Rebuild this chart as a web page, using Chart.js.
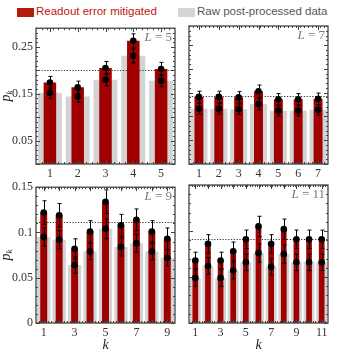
<!DOCTYPE html>
<html>
<head>
<meta charset="utf-8">
<script src="https://cdn.jsdelivr.net/npm/chart.js@4.4.1/dist/chart.umd.min.js"></script>
<style>
  html, body { margin: 0; padding: 0; background: #fff; }
  body { width: 337px; height: 356px; position: relative; overflow: hidden; }
  canvas { position: absolute; }
  .swatch { position: absolute; top: 8px; width: 17px; height: 9px; }
  .legend-text { position: absolute; top: 5px; line-height: 15px; font: 11.5px 'Liberation Sans', Arial, sans-serif; white-space: nowrap; }
</style>
</head>
<body>
<div class="swatch" style="left:17px; background:#b51a0e;"></div>
<div class="legend-text" style="left:36px; color:#c0160c;">Readout error mitigated</div>
<div class="swatch" style="left:178px; background:#d6d6d6;"></div>
<div class="legend-text" style="left:197px; color:#555;">Raw post-processed data</div>
<canvas id="c5"></canvas>
<canvas id="c7"></canvas>
<canvas id="c9"></canvas>
<canvas id="c11"></canvas>
<script>
// ---- data ----
const k5 = [1, 2, 3, 4, 5];
const mit5 = [0.174, 0.164, 0.205, 0.263, 0.203];
const raw5 = [0.152, 0.144, 0.180, 0.231, 0.178];
const mitErr5 = [0.013, 0.013, 0.014, 0.015, 0.014];
const rawErr5 = [0.012, 0.012, 0.013, 0.015, 0.013];

const k7 = [1, 2, 3, 4, 5, 6, 7];
const mit7 = [0.141, 0.141, 0.140, 0.153, 0.136, 0.136, 0.137];
const raw7 = [0.116, 0.116, 0.115, 0.126, 0.112, 0.112, 0.114];
const mitErr7 = [0.012, 0.012, 0.012, 0.013, 0.012, 0.012, 0.012];
const rawErr7 = [0.011, 0.011, 0.011, 0.012, 0.011, 0.011, 0.011];

const k9 = [1, 2, 3, 4, 5, 6, 7, 8, 9];
const mit9 = [0.122, 0.119, 0.082, 0.101, 0.134, 0.108, 0.114, 0.101, 0.093];
const raw9 = [0.095, 0.092, 0.064, 0.079, 0.104, 0.084, 0.088, 0.079, 0.072];
const mitErr9 = [0.013, 0.013, 0.011, 0.012, 0.013, 0.012, 0.012, 0.012, 0.012];
const rawErr9 = [0.010, 0.010, 0.009, 0.009, 0.011, 0.010, 0.010, 0.009, 0.009];

const k11 = [1, 2, 3, 4, 5, 6, 7, 8, 9, 10, 11];
const mit11 = [0.068, 0.086, 0.068, 0.078, 0.091, 0.105, 0.086, 0.102, 0.091, 0.091, 0.091];
const raw11 = [0.049, 0.062, 0.049, 0.057, 0.066, 0.076, 0.061, 0.075, 0.066, 0.066, 0.066];
const mitErr11 = [0.009, 0.010, 0.009, 0.010, 0.010, 0.011, 0.010, 0.011, 0.010, 0.010, 0.010];
const rawErr11 = [0.009, 0.009, 0.009, 0.009, 0.009, 0.010, 0.009, 0.010, 0.009, 0.009, 0.009];

// tick labels
const yTicksTop = [0.05, 0.15, 0.25];
const yTicksBottom = [0, 0.05, 0.1, 0.15];
const xShownBottom = [1, 3, 5, 7, 9, 11];

const RED = '#a00000';
const GRAY = '#d3d3d3';
const TICK_FONT = { family: "'Liberation Serif', 'Times New Roman', serif", size: 12 };

// dotted 1/L line, drawn right after the gray bars so red sits on top
const refLinePlugin = {
  id: 'refLine',
  afterDatasetDraw(chart, args, opts) {
    if (args.index !== 0) return;
    const { ctx, chartArea: a, scales: { y } } = chart;
    const py = Math.round(y.getPixelForValue(1 / opts.L)) + 0.5;
    ctx.save();
    ctx.strokeStyle = '#333';
    ctx.lineWidth = 1;
    ctx.setLineDash([1.2, 1.6]);
    ctx.beginPath();
    ctx.moveTo(a.left, py);
    ctx.lineTo(a.right, py);
    ctx.stroke();
    ctx.restore();
  }
};

const errorBarPlugin = {
  id: 'errorBars',
  afterDatasetsDraw(chart) {
    const { ctx, scales: { y } } = chart;
    ctx.save();
    ctx.strokeStyle = '#000';
    ctx.lineWidth = 1;
    chart.data.datasets.forEach((ds, i) => {
      if (!ds.errors) return;
      const meta = chart.getDatasetMeta(i);
      meta.data.forEach((pt, j) => {
        const v = ds.data[j], e = ds.errors[j];
        const x = Math.round(pt.x) + 0.5;
        const y1 = y.getPixelForValue(v - e);
        const y2 = y.getPixelForValue(v + e);
        ctx.beginPath();
        ctx.moveTo(x, y1); ctx.lineTo(x, y2);
        ctx.moveTo(x - 2, y1); ctx.lineTo(x + 2, y1);
        ctx.moveTo(x - 2, y2); ctx.lineTo(x + 2, y2);
        ctx.stroke();
      });
    });
    ctx.restore();
  }
};

// Mathematica-like frame with inward ticks, panel label and y title
const framePlugin = {
  id: 'frame',
  afterDraw(chart, args, opts) {
    const { ctx, chartArea: a, scales: { x, y } } = chart;
    ctx.save();
    ctx.strokeStyle = '#444';
    ctx.lineWidth = 1;
    ctx.beginPath();
    const nMinor = Math.round(y.max / 0.01);
    for (let n = 0; n <= nMinor; n++) {
      const py = Math.round(y.getPixelForValue(n * 0.01)) + 0.5;
      const len = n % 5 === 0 ? 4 : 2;
      ctx.moveTo(a.left, py); ctx.lineTo(a.left + len, py);
      ctx.moveTo(a.right, py); ctx.lineTo(a.right - len, py);
    }
    const nCat = chart.data.labels.length;
    for (let i = 0; i < nCat; i++) {
      const px = Math.round(x.getPixelForValue(i)) + 0.5;
      ctx.moveTo(px, a.bottom); ctx.lineTo(px, a.bottom - 4);
      ctx.moveTo(px, a.top); ctx.lineTo(px, a.top + 4);
    }
    const step = (a.right - a.left) / (nCat * 5);
    for (let s = a.left + step; s < a.right - 1; s += step) {
      const px = Math.round(s) + 0.5;
      ctx.moveTo(px, a.top); ctx.lineTo(px, a.top + 2);
      ctx.moveTo(px, a.bottom); ctx.lineTo(px, a.bottom - 2);
    }
    ctx.stroke();
    ctx.lineWidth = 1.3;
    ctx.strokeRect(a.left, a.top, a.right - a.left, a.bottom - a.top);

    // panel label "L = n"
    ctx.fillStyle = '#777';
    ctx.textBaseline = 'alphabetic';
    ctx.textAlign = 'left';
    ctx.font = "13px 'Liberation Serif', serif";
    const rest = ' = ' + opts.L;
    const wRest = ctx.measureText(rest).width;
    ctx.font = "italic 13px 'Liberation Serif', serif";
    const wL = ctx.measureText('L').width;
    const xr = a.right - 3;
    const yb = a.top + 13;
    ctx.fillText('L', xr - wRest - wL, yb);
    ctx.font = "13px 'Liberation Serif', serif";
    ctx.fillText(rest, xr - wRest, yb);

    // y title p_k
    if (opts.yTitle) {
      ctx.fillStyle = '#222';
      ctx.translate(10, (a.top + a.bottom) / 2);
      ctx.rotate(-Math.PI / 2);
      ctx.font = "italic 14px 'Liberation Serif', serif";
      const wp = ctx.measureText('p').width;
      ctx.font = "italic 9px 'Liberation Serif', serif";
      const wk = ctx.measureText('k').width;
      const x0 = -(wp + wk) / 2;
      ctx.font = "italic 14px 'Liberation Serif', serif";
      ctx.fillText('p', x0, 0);
      ctx.font = "italic 9px 'Liberation Serif', serif";
      ctx.fillText('k', x0 + wp, 2);
    }
    ctx.restore();
  }
};

function makePanel(canvasId, box, L, k, mit, raw, mitErr, rawErr, yMax, yTicks, bottomRow, leftCol) {
  const canvas = document.getElementById(canvasId);
  const areaW = box.right - box.left;
  const areaH = box.bottom - box.top;
  const xh = bottomRow ? 33 : 20;
  canvas.width = areaW + 36 + 6;
  canvas.height = areaH + 8 + xh;
  canvas.style.left = (box.left - 36) + 'px';
  canvas.style.top = (box.top - 8) + 'px';

  return new Chart(canvas.getContext('2d'), {
    data: {
      labels: k.map(String),
      datasets: [
        { type: 'bar', data: raw, backgroundColor: GRAY, borderWidth: 0,
          barPercentage: 0.86, categoryPercentage: 1, grouped: false, order: 4 },
        { type: 'bar', data: mit, backgroundColor: RED, borderWidth: 0,
          barPercentage: 0.45, categoryPercentage: 1, grouped: false, order: 3 },
        { type: 'line', data: raw, errors: rawErr, showLine: false, order: 2,
          pointRadius: 3.3, pointBackgroundColor: '#000', pointBorderWidth: 0 },
        { type: 'line', data: mit, errors: mitErr, showLine: false, order: 1,
          pointRadius: 3.3, pointBackgroundColor: '#000', pointBorderWidth: 0 }
      ]
    },
    options: {
      responsive: false,
      animation: false,
      devicePixelRatio: 1,
      layout: { padding: { top: 8, right: 6, left: 0, bottom: 0 } },
      plugins: {
        legend: { display: false },
        tooltip: { enabled: false },
        refLine: { L: L },
        frame: { L: L, yTitle: leftCol }
      },
      scales: {
        x: {
          type: 'category',
          grid: { display: false, drawTicks: false },
          border: { display: false },
          ticks: {
            autoSkip: false, maxRotation: 0, padding: 3,
            color: '#333', font: TICK_FONT,
            callback: (v, i) => (!bottomRow || xShownBottom.includes(k[i])) ? String(k[i]) : ''
          },
          title: {
            display: bottomRow, text: 'k', color: '#222',
            font: { family: "'Liberation Serif', serif", size: 14, style: 'italic' },
            padding: { top: 0, bottom: 2 }
          },
          afterFit: s => { s.height = xh; }
        },
        y: {
          min: 0, max: yMax,
          grid: { display: false, drawTicks: false },
          border: { display: false },
          afterBuildTicks: s => { s.ticks = yTicks.map(v => ({ value: v })); },
          ticks: {
            display: leftCol, padding: 3, color: '#333', font: TICK_FONT,
            callback: v => String(v)
          },
          afterFit: s => { s.width = 36; }
        }
      }
    },
    plugins: [refLinePlugin, errorBarPlugin, framePlugin]
  });
}

makePanel('c5',  { left: 36,  top: 26,  right: 175, bottom: 164 }, 5,  k5,  mit5,  raw5,  mitErr5,  rawErr5,  0.29, yTicksTop,    false, true);
makePanel('c7',  { left: 189, top: 26,  right: 328, bottom: 164 }, 7,  k7,  mit7,  raw7,  mitErr7,  rawErr7,  0.29, yTicksTop,    false, false);
makePanel('c9',  { left: 36,  top: 185, right: 175, bottom: 323 }, 9,  k9,  mit9,  raw9,  mitErr9,  rawErr9,  0.15, yTicksBottom, true,  true);
makePanel('c11', { left: 189, top: 185, right: 328, bottom: 323 }, 11, k11, mit11, raw11, mitErr11, rawErr11, 0.15, yTicksBottom, true,  false);
</script>
</body>
</html>
